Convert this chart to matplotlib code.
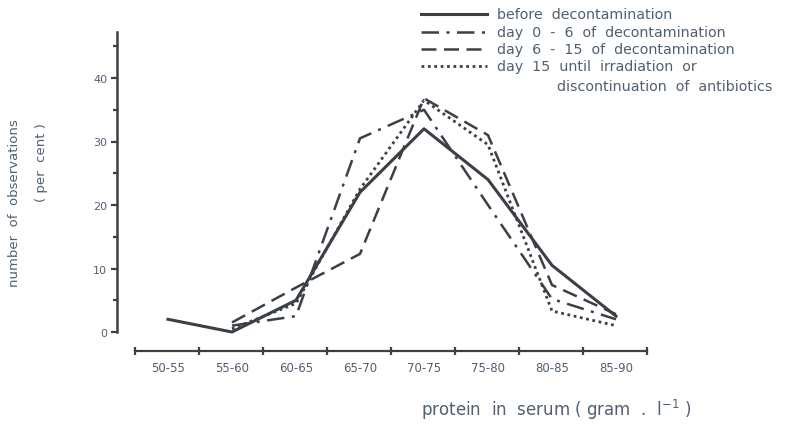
import matplotlib
matplotlib.use("Agg")
import matplotlib.pyplot as plt
from matplotlib.lines import Line2D
import numpy as np

# protein classes (gram per litre) and share of observations (per cent)
categories = ["50-55", "55-60", "60-65", "65-70", "70-75", "75-80", "80-85", "85-90"]
before = [2.0, 0.0, 5.0, 22.0, 32.0, 24.0, 10.5, 2.5]
day0_6 = [None, 1.0, 2.5, 30.5, 35.0, 20.0, 5.2, 2.0]
day6_15 = [None, 1.5, 7.0, 12.3, 36.8, 31.0, 7.4, 2.8]
day15_on = [None, 0.5, 4.5, 22.5, 36.5, 29.5, 3.3, 1.0]

series_labels = ["before  decontamination",
                 "day  0  -  6  of  decontamination",
                 "day  6  -  15  of  decontamination",
                 "day  15  until  irradiation  or"]
label_tail = "discontinuation  of  antibiotics"

line_col = "#3b4047"
text_col = "#4f6072"
plt.rcParams["font.family"] = ["DejaVu Sans"]

W, H = 802, 427
fig = plt.figure(figsize=(W / 100, H / 100), dpi=100)

# axes placed in pixel terms
x_left, x_right = 117, 690
y_top, y_bot = 33, 352
ax = fig.add_axes([x_left / W, (H - y_bot) / H, (x_right - x_left) / W, (y_bot - y_top) / H])

px_per_cat = 64.0
x0_px = 168.0
xlim = ((x_left - x0_px) / px_per_cat, (x_right - x0_px) / px_per_cat)
px_per_unit = 6.35
zero_px = 333.0
ylim = ((zero_px - y_bot) / px_per_unit, (zero_px - y_top) / px_per_unit)
ax.set_xlim(*xlim)
ax.set_ylim(*ylim)

xs = np.arange(len(categories))

def draw(vals, **kw):
    pts = [(x, v) for x, v in zip(xs, vals) if v is not None]
    px, py = zip(*pts)
    return ax.plot(px, py, color=line_col, **kw)[0]

styles = [
    dict(linestyle="-", linewidth=2.2),
    dict(linestyle=(0, (7, 3, 1.2, 3)), linewidth=1.8),
    dict(linestyle=(0, (6, 3)), linewidth=1.8),
    dict(linestyle=(0, (1.0, 1.3)), linewidth=2.0),
]
for vals, st in zip([before, day0_6, day6_15, day15_on], styles):
    draw(vals, **st)

# spines
for s in ["top", "right"]:
    ax.spines[s].set_visible(False)
ax.spines["left"].set_bounds(0, ylim[1])
ax.spines["left"].set_color(line_col)
ax.spines["left"].set_linewidth(1.8)
ax.spines["bottom"].set_bounds(-0.52, 7.48)
ax.spines["bottom"].set_color(line_col)
ax.spines["bottom"].set_linewidth(1.6)

# y ticks
ax.set_yticks([0, 10, 20, 30, 40])
ax.set_yticklabels(["0", "10", "20", "30", "40"])
ax.set_yticks([5, 15, 25, 35, 45], minor=True)
ax.tick_params(axis="y", which="major", direction="out", length=4, width=1.6,
               colors=line_col, labelcolor=text_col, labelsize=8, pad=3)
ax.tick_params(axis="y", which="minor", direction="out", length=3, width=1.6,
               colors=line_col)

# x ticks: class boundaries carry the tick marks, class centres carry the labels
ax.set_xticks(np.arange(-0.52, 7.6, 1.0), minor=True)
ax.set_xticks(xs)
ax.set_xticklabels(categories)
ax.tick_params(axis="x", which="major", length=0, labelcolor=text_col,
               labelsize=8.5, pad=7)
ax.tick_params(axis="x", which="minor", direction="inout", length=6, width=1.6,
               colors=line_col)

# axis titles
fig.text(15 / W, 1 - 203 / H, "number  of  observations", rotation=90,
         ha="center", va="center", color=text_col, fontsize=9.5)
fig.text(42 / W, 1 - 163 / H, "( per  cent )", rotation=90,
         ha="center", va="center", color=text_col, fontsize=9.5)
fig.text(556 / W, 1 - 410 / H, "protein  in  serum ( gram  .  l$^{-1}$ )",
         ha="center", va="center", color=text_col, fontsize=12)

# key in the upper right
rows_y = [15, 33, 50, 67]
for y, st, lab in zip(rows_y, styles, series_labels):
    yf = 1 - y / H
    fig.add_artist(Line2D([421 / W, 487 / W], [yf, yf], color=line_col,
                          linestyle=st["linestyle"], linewidth=st["linewidth"]))
    fig.text(497 / W, yf, lab, ha="left", va="center", color=text_col, fontsize=10.3)
fig.text(557 / W, 1 - 87 / H, label_tail, ha="left", va="center",
         color=text_col, fontsize=10.3)

fig.savefig("out.png", dpi=100)
